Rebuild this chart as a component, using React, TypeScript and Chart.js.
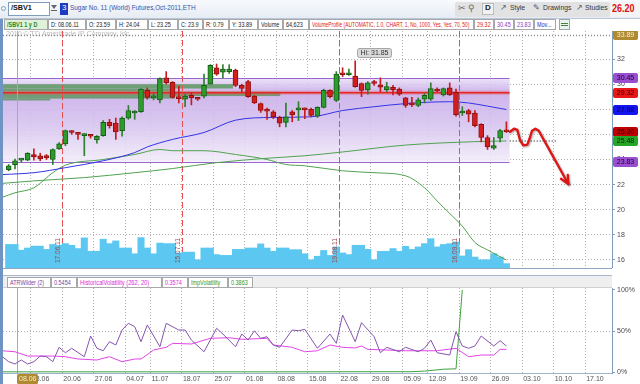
import { useEffect, useRef } from 'react';
import { Chart, registerables } from 'chart.js';

Chart.register(...registerables);

const FONT = "'Liberation Sans', Arial, Helvetica, sans-serif";

// ---------- Daily bars, index 0 = 07.06.11 ... index 79 = 28.09.11 ----------
const opens = [
  23.2, 23.59, 23.95, 23.95, 24.4, 24.3, 24.3, 24.0, 24.85, 25.25,
  26.25, 26.1, 25.9, 25.95, 25.55, 25.9, 26.95, 26.9, 26.3, 27.3,
  27.7, 27.8, 29.5, 28.9, 28.75, 30.5, 30.15, 28.95, 28.8, 29.1,
  28.9, 29.05, 30.0, 31.3, 30.95, 31.0, 31.1, 29.9, 30.2, 29.05,
  28.45, 28.0, 27.8, 27.35, 26.95, 27.8, 27.95, 28.0, 28.0, 27.45,
  28.15, 29.5, 28.7, 30.9, 30.75, 30.65, 30.05, 29.55, 30.2, 29.95,
  29.55, 29.75, 29.6, 28.9, 28.45, 28.3, 28.8, 28.8, 29.6, 29.15,
  29.7, 29.35, 27.7, 27.9, 27.7, 26.8, 25.75, 24.9, 25.7, 26.28,
];
const highs = [
  23.6, 24.04, 24.1, 24.55, 24.85, 24.5, 24.4, 24.85, 25.35, 26.35,
  26.3, 26.15, 26.05, 26.0, 25.9, 27.1, 27.2, 27.3, 27.4, 28.3,
  27.9, 29.65, 29.7, 29.25, 30.5, 31.0, 30.2, 29.85, 29.2, 29.3,
  28.95, 30.8, 31.55, 31.6, 31.55, 31.55, 31.2, 30.0, 30.3, 29.1,
  28.5, 28.1, 27.9, 27.45, 28.5, 27.9, 28.6, 28.1, 28.1, 28.2,
  29.6, 29.55, 31.0, 31.3, 31.2, 31.85, 30.1, 30.2, 30.3, 30.5,
  30.15, 29.9, 29.7, 28.95, 28.95, 28.9, 29.25, 30.1, 29.7, 29.7,
  30.1, 29.6, 28.2, 28.0, 27.9, 26.85, 25.9, 25.75, 26.4, 27.0,
];
const lows = [
  23.1, 23.25, 23.8, 23.9, 23.95, 23.9, 24.0, 23.6, 24.8, 25.1,
  26.0, 25.6, 24.3, 25.7, 25.3, 25.85, 26.5, 25.6, 25.85, 27.2,
  27.2, 27.75, 28.8, 28.75, 28.5, 30.0, 28.9, 28.5, 28.2, 28.35,
  28.7, 28.9, 30.0, 30.7, 30.5, 30.85, 29.8, 29.4, 28.95, 28.45,
  27.75, 27.2, 27.25, 26.6, 26.6, 27.0, 27.1, 27.25, 27.4, 27.35,
  28.1, 28.9, 28.6, 30.6, 30.7, 29.75, 29.0, 29.2, 29.9, 29.4,
  29.4, 29.15, 29.1, 28.15, 28.2, 28.2, 28.5, 28.7, 29.4, 29.05,
  29.1, 27.45, 27.5, 27.0, 26.6, 25.4, 24.8, 24.8, 25.4, 26.15,
];
const closes = [
  23.5, 23.9, 24.05, 24.5, 24.2, 24.05, 24.15, 24.8, 25.25, 26.3,
  26.15, 26.0, 26.0, 25.85, 25.85, 26.95, 26.7, 26.2, 27.3, 27.9,
  27.8, 29.6, 28.95, 29.0, 30.45, 30.1, 28.95, 28.85, 29.05, 28.9,
  28.8, 29.9, 31.5, 30.8, 31.2, 31.2, 29.9, 29.65, 29.0, 28.5,
  27.9, 27.85, 27.4, 26.9, 27.4, 27.55, 28.05, 27.95, 27.5, 28.15,
  29.5, 29.0, 30.8, 30.75, 30.85, 29.8, 29.5, 30.1, 30.05, 29.75,
  29.8, 29.55, 29.2, 28.3, 28.35, 28.75, 29.1, 29.65, 29.45, 29.65,
  29.15, 27.55, 27.85, 27.6, 26.7, 25.75, 25.0, 25.1, 26.3, 26.2,
];
// volume in thousands of contracts
const volumes = [
  86, 86, 65, 73, 80, 80, 68, 86, 83, 89,
  83, 71, 110, 61, 61, 105, 89, 99, 73, 73,
  52, 111, 73, 52, 91, 89, 89, 55, 58, 58,
  30, 73, 73, 49, 46, 46, 68, 68, 73, 73,
  88, 73, 61, 73, 73, 67, 67, 52, 30, 43,
  64, 46, 77, 55, 49, 83, 83, 68, 30, 61,
  61, 71, 61, 79, 68, 77, 89, 107, 77, 86,
  89, 95, 44, 67, 40, 30, 30, 52, 40, 16,
];

// moving averages (read at sample days)
const blueMaIdx = [-1, 4, 9, 15, 20, 22, 26, 31, 36, 42, 48, 53, 58, 63, 70, 73, 76, 79];
const blueMaVal = [22.8, 22.95, 23.35, 23.9, 24.55, 25.0, 25.6, 26.15, 27.13, 27.35, 27.4, 27.9, 28.2, 28.45, 28.6, 28.5, 28.25, 27.98];
const slowMaIdx = [-1, 4, 12, 20, 26, 33, 41, 47, 53, 63, 74, 79];
const slowMaVal = [22.1, 22.3, 22.56, 22.95, 23.28, 23.75, 24.1, 24.3, 24.6, 25.15, 25.42, 25.48];
const fastMaIdx = [-1, 1, 4, 7, 9, 15, 20, 24, 26, 31, 36, 41, 44, 47, 53, 58, 63, 66, 68, 70, 72, 74, 76, 79];
const fastMaVal = [21.0, 21.35, 21.75, 22.95, 23.55, 24.0, 24.4, 24.8, 24.7, 24.7, 24.4, 24.0, 23.6, 23.5, 23.1, 22.95, 22.7, 21.75, 20.7, 19.7, 18.7, 17.4, 16.8, 16.0];

// volume profile
const valueAreaHigh = 30.45;
const pocPrice = 29.32;
const valueAreaLow = 23.83;
const yearHigh = 33.89;
const profileLo = [29.65, 29.4, 29.05, 28.85, 28.7];
const profileHi = [30.0, 29.65, 29.4, 29.05, 28.85];
const profileEnd = [35.6, 26.4, 43.1, 26.4, 6.6];

// lower study panel (% of panel)
const atrIdx = [-1, 0, 1, 2, 3, 4, 5, 6, 7, 8, 9, 10, 12, 13, 14, 15, 16, 17, 18, 19, 20, 21, 22, 24, 25, 27, 28, 29, 31, 33, 34, 36, 37, 38, 39, 40, 41, 42, 43, 45, 46, 47, 49, 51, 52, 53, 55, 56, 58, 59, 60, 62, 63, 65, 66, 67, 68, 70, 71, 72, 73, 74, 75, 77, 78, 79];
const atrVal = [19, 12.9, 10.1, 15, 10.1, 12.9, 19.8, 19, 12.9, 30.4, 23.8, 29.2, 19, 44.1, 29.2, 26.2, 37.2, 33.2, 51.4, 59.5, 55.4, 37.2, 57.5, 31.1, 59.5, 51.4, 51.4, 39.2, 25, 53.5, 46.5, 31.1, 46.5, 39.2, 50.5, 41.3, 43.3, 33.2, 30.4, 51.4, 50.5, 52.2, 29.2, 46.5, 35.2, 69.6, 37.2, 60.3, 43.3, 23.8, 30.4, 25, 30.4, 25, 29.2, 39.2, 23.8, 21, 49.3, 32, 29.2, 32, 44.1, 32, 38.4, 32];
const hvIdx = [-1, 1, 3, 7, 9, 11, 14, 16, 18, 20, 21, 23, 25, 26, 29, 32, 35, 37, 41, 42, 45, 47, 49, 51, 53, 55, 56, 57, 60, 63, 65, 68, 71, 73, 75, 77, 78, 79];
const hvVal = [26.2, 25, 19.8, 19.8, 19, 16.2, 15, 19, 12.9, 16.2, 16.2, 27.1, 30.4, 35.2, 34.4, 41.3, 42, 40.1, 41.3, 33.2, 30.4, 25, 26.2, 33.2, 30.4, 29.6, 32, 27.9, 27.1, 26.2, 26.2, 26.2, 29.2, 19, 21, 21, 27.9, 27.9];
const ivIdx = [-1, 40, 64, 66, 69, 71, 72];
const ivVal = [0.6, 0.6, 0.8, 1.5, 3.8, 4.3, 100];

// axes
const xMin = -0.905;
const xMax = 95.76;
const weekTickIdx = [3.5, 8.5, 13.5, 18.5, 22.5, 27.5, 32.5, 37.5, 42.5, 47.5, 52.5, 57.5, 62.5, 66.5, 71.5, 76.5, 81.5, 86.5, 91.5];
const weekLabels = ['13.06', '20.06', '27.06', '04.07', '11.07', '18.07', '25.07', '01.08', '08.08', '15.08', '22.08', '29.08', '05.09', '12.09', '19.09', '26.09', '03.10', '10.10', '17.10'];
const priceTicks = [16, 18, 20, 22, 24, 26, 28, 30, 32];
const pctTicks = [0, 50, 100];

// markers
const expiryIdx = [8.5, 27.5, 52.5, 71.5];
const expiryLabels = ['17.06.11', '15.07.11', '19.08.11', '16.09.11'];
const cursorIdx = 1.3;
const cursorLabel = '08.06';
const tagValues = [33.89, 30.45, 29.32, 27.98, 26.2, 25.48, 23.83];
const tagColors = ['#B08A30', '#9A4FD0', '#E81818', '#1414F0', '#C00000', '#26A626', '#9A4FD0'];
const tagText = ['#F6EDD6', '#1A0030', '#300000', '#000060', '#200000', '#002000', '#1A0030'];
const drawIdx = [79.57, 80.21, 80.73, 81.16, 81.68, 82.32, 82.75, 83.06, 83.59, 84.13, 88.83];
const drawPrice = [26.21, 26.45, 26.35, 25.55, 25.13, 25.18, 25.77, 26.29, 26.45, 26.29, 22.05];
const projStartIdx = 79.5;
const projEndIdx = 87;
const projPrice = 25.48;

const lastIdx = closes.length - 1;
const isUp = (i: number) => closes[i] >= opens[i];

const mainOverlay = {
  id: 'mainOverlay',
  beforeDatasetsDraw(chart: any) {
    const { ctx, chartArea: a, scales } = chart;
    const x = scales.x;
    const y = scales.y;
    ctx.save();
    ctx.beginPath();
    ctx.rect(a.left, a.top, a.right - a.left, a.bottom - a.top);
    ctx.clip();
    // value area band
    const vx1 = x.getPixelForValue(lastIdx + 0.5);
    const yTop = y.getPixelForValue(valueAreaHigh);
    const yBot = y.getPixelForValue(valueAreaLow);
    const g = ctx.createLinearGradient(0, yTop, 0, yBot);
    g.addColorStop(0, '#E8DEF6');
    g.addColorStop(0.08, '#D8C4F0');
    g.addColorStop(0.16, '#C6A8E8');
    g.addColorStop(0.55, '#D4C0EE');
    g.addColorStop(1, '#F1EBF9');
    ctx.globalAlpha = 0.85;
    ctx.fillStyle = g;
    ctx.fillRect(a.left, yTop, vx1 - a.left, yBot - yTop);
    ctx.globalAlpha = 1;
    ctx.strokeStyle = '#9C64CC';
    ctx.lineWidth = 1;
    ctx.beginPath();
    ctx.moveTo(a.left, Math.round(yTop) + 0.5);
    ctx.lineTo(vx1, Math.round(yTop) + 0.5);
    ctx.moveTo(a.left, Math.round(yBot) + 0.5);
    ctx.lineTo(vx1, Math.round(yBot) + 0.5);
    ctx.stroke();
    // profile rows
    ctx.fillStyle = 'rgba(88,150,92,0.82)';
    for (let k = 0; k < profileLo.length; k++) {
      const y0 = y.getPixelForValue(profileHi[k]);
      const y1 = y.getPixelForValue(profileLo[k]);
      const xe = x.getPixelForValue(profileEnd[k]);
      ctx.fillRect(a.left, y0, xe - a.left, y1 - y0);
    }
    // POC
    const py = y.getPixelForValue(pocPrice);
    ctx.strokeStyle = 'rgba(240,90,90,0.4)';
    ctx.lineWidth = 4;
    ctx.beginPath();
    ctx.moveTo(a.left, py);
    ctx.lineTo(vx1, py);
    ctx.stroke();
    ctx.strokeStyle = '#E42828';
    ctx.lineWidth = 1.6;
    ctx.beginPath();
    ctx.moveTo(a.left, py);
    ctx.lineTo(vx1, py);
    ctx.stroke();
    // year high dotted
    const hy = Math.round(y.getPixelForValue(yearHigh)) + 0.5;
    ctx.strokeStyle = '#8C8C8C';
    ctx.setLineDash([1, 2]);
    ctx.beginPath();
    ctx.moveTo(a.left, hy);
    ctx.lineTo(a.right, hy);
    ctx.stroke();
    ctx.setLineDash([]);
    ctx.fillStyle = 'rgba(130,130,130,0.55)';
    ctx.font = `7px ${FONT}`;
    ctx.textBaseline = 'middle';
    ctx.textAlign = 'left';
    ctx.fillText('2010 \u00A9 TD Ameritrade IP Company, Inc.', a.left + 3, hy - 1);
    // expiration lines
    expiryIdx.forEach((v) => {
      const ex = Math.round(x.getPixelForValue(v)) + 0.5;
      ctx.strokeStyle = '#E65050';
      ctx.lineWidth = 1;
      ctx.setLineDash([6, 3]);
      ctx.beginPath();
      ctx.moveTo(ex, a.top);
      ctx.lineTo(ex, a.bottom);
      ctx.stroke();
      ctx.setLineDash([]);
    });
    // cursor
    const cx = Math.round(x.getPixelForValue(cursorIdx)) + 0.5;
    ctx.strokeStyle = '#D3A35A';
    ctx.lineWidth = 1;
    ctx.beginPath();
    ctx.moveTo(cx, a.top);
    ctx.lineTo(cx, a.bottom);
    ctx.stroke();
    ctx.restore();
  },
  afterDatasetsDraw(chart: any) {
    const { ctx, chartArea: a, scales } = chart;
    const x = scales.x;
    const y = scales.y;
    ctx.save();
    ctx.beginPath();
    ctx.rect(a.left, a.top, a.right - a.left, a.bottom - a.top);
    ctx.clip();
    // expiration labels (vertical)
    expiryIdx.forEach((v, k) => {
      const ex = Math.round(x.getPixelForValue(v));
      ctx.save();
      ctx.translate(ex - 1, a.bottom - 5);
      ctx.rotate(-Math.PI / 2);
      ctx.font = `6.5px ${FONT}`;
      ctx.fillStyle = '#9A4646';
      ctx.textAlign = 'left';
      ctx.textBaseline = 'bottom';
      ctx.fillText(expiryLabels[k], 0, 0);
      ctx.restore();
    });
    // projection dotted line
    const pj = y.getPixelForValue(projPrice);
    ctx.strokeStyle = '#8A8A8A';
    ctx.lineWidth = 1.5;
    ctx.setLineDash([1.5, 1.5]);
    ctx.beginPath();
    ctx.moveTo(x.getPixelForValue(projStartIdx), pj);
    ctx.lineTo(x.getPixelForValue(projEndIdx), pj);
    ctx.stroke();
    ctx.setLineDash([]);
    // hand drawing
    ctx.shadowColor = 'rgba(0,0,0,0.35)';
    ctx.shadowBlur = 2;
    ctx.shadowOffsetX = 1;
    ctx.shadowOffsetY = 1;
    ctx.strokeStyle = '#E01515';
    ctx.lineWidth = 2.4;
    ctx.lineJoin = 'round';
    ctx.lineCap = 'round';
    ctx.beginPath();
    drawIdx.forEach((v, k) => {
      const px = x.getPixelForValue(v);
      const pyy = y.getPixelForValue(drawPrice[k]);
      if (k === 0) ctx.moveTo(px, pyy);
      else ctx.lineTo(px, pyy);
    });
    ctx.stroke();
    const n = drawIdx.length;
    const tx = x.getPixelForValue(drawIdx[n - 1]);
    const ty = y.getPixelForValue(drawPrice[n - 1]);
    const fx = x.getPixelForValue(drawIdx[n - 2]);
    const fy = y.getPixelForValue(drawPrice[n - 2]);
    const ang = Math.atan2(ty - fy, tx - fx);
    ctx.beginPath();
    ctx.moveTo(tx - 9 * Math.cos(ang - 0.45), ty - 9 * Math.sin(ang - 0.45));
    ctx.lineTo(tx, ty);
    ctx.lineTo(tx - 9 * Math.cos(ang + 0.45), ty - 9 * Math.sin(ang + 0.45));
    ctx.stroke();
    ctx.shadowColor = 'transparent';
    // Hi label
    let hiI = 0;
    highs.forEach((h, i) => { if (h > highs[hiI]) hiI = i; });
    const hx = x.getPixelForValue(hiI) + 2;
    const hyy = y.getPixelForValue(highs[hiI]) - 4;
    const label = `Hi: ${highs[hiI].toFixed(2)}`;
    ctx.font = `7px ${FONT}`;
    const w = ctx.measureText(label).width + 6;
    ctx.fillStyle = '#DADADA';
    ctx.strokeStyle = '#A6A6A6';
    ctx.lineWidth = 1;
    ctx.beginPath();
    ctx.roundRect(Math.round(hx) + 0.5, Math.round(hyy - 9) + 0.5, Math.round(w), 9, 2);
    ctx.fill();
    ctx.stroke();
    ctx.fillStyle = '#333';
    ctx.textAlign = 'left';
    ctx.textBaseline = 'middle';
    ctx.fillText(label, Math.round(hx) + 3.5, Math.round(hyy - 9) + 5);
    ctx.restore();
  },
  afterDraw(chart: any) {
    const { ctx, chartArea: a, scales } = chart;
    const y = scales.y;
    ctx.save();
    ctx.font = `7px ${FONT}`;
    ctx.textAlign = 'center';
    ctx.textBaseline = 'middle';
    tagValues.forEach((v, k) => {
      const ty = Math.round(y.getPixelForValue(v));
      ctx.fillStyle = tagColors[k];
      ctx.beginPath();
      ctx.roundRect(a.right + 1, ty - 5, 25, 10, 2);
      ctx.fill();
      ctx.fillStyle = tagText[k];
      ctx.fillText(v.toFixed(2), a.right + 13.5, ty + 0.5);
    });
    ctx.restore();
  },
};

const lowerOverlay = {
  id: 'lowerOverlay',
  beforeDatasetsDraw(chart: any) {
    const { ctx, chartArea: a, scales } = chart;
    const cx = Math.round(scales.x.getPixelForValue(cursorIdx)) + 0.5;
    ctx.save();
    ctx.strokeStyle = '#D3A35A';
    ctx.lineWidth = 1;
    ctx.beginPath();
    ctx.moveTo(cx, a.top);
    ctx.lineTo(cx, a.bottom);
    ctx.stroke();
    ctx.restore();
  },
  afterDraw(chart: any) {
    const { ctx, chartArea: a, scales } = chart;
    const x = scales.x;
    ctx.save();
    ctx.font = `7px ${FONT}`;
    ctx.fillStyle = '#555';
    ctx.textAlign = 'left';
    ctx.textBaseline = 'middle';
    weekTickIdx.forEach((v, k) => {
      ctx.fillText(weekLabels[k], x.getPixelForValue(v) + 1, a.bottom + 6);
    });
    const cx = Math.round(x.getPixelForValue(cursorIdx));
    ctx.fillStyle = '#B08A2E';
    ctx.beginPath();
    ctx.roundRect(cx, a.bottom + 1, 21, 10, 1.5);
    ctx.fill();
    ctx.fillStyle = '#F6ECD2';
    ctx.fillText(cursorLabel, cx + 2, a.bottom + 6);
    ctx.restore();
  },
};

function TextBox(props: any) {
  const { l, t, w, h, text, color = '#222', bg = '#fff', bold = false, fs = 7, sx = 0.78, border = '#A8A8A8' } = props;
  return (
    <div style={{ position: 'absolute', left: l, top: t, width: w, height: h, boxSizing: 'border-box', border: `1px solid ${border}`, background: bg, overflow: 'hidden' }}>
      <span style={{ position: 'absolute', left: 2, top: 0, height: h - 2, lineHeight: `${h - 2}px`, fontSize: fs, fontWeight: bold ? 700 : 400, color, whiteSpace: 'nowrap', transform: `scaleX(${sx})`, transformOrigin: '0 50%' }}>{text}</span>
    </div>
  );
}

function Txt(props: any) {
  const { l, t, text, color = '#222', fs = 8, bold = false, sx = 0.85 } = props;
  return (
    <span style={{ position: 'absolute', left: l, top: t, fontSize: fs, lineHeight: `${fs + 2}px`, color, fontWeight: bold ? 700 : 400, whiteSpace: 'nowrap', transform: `scaleX(${sx})`, transformOrigin: '0 50%' }}>{text}</span>
  );
}

export default function App() {
  const mainRef = useRef<HTMLCanvasElement>(null);
  const lowRef = useRef<HTMLCanvasElement>(null);

  useEffect(() => {
    const idx = opens.map((_, i) => i);
    const gridDash = [1, 2];
    const xScale = (isLower: boolean) => ({
      type: 'linear',
      min: xMin,
      max: xMax,
      offset: false,
      afterBuildTicks: (s: any) => { s.ticks = weekTickIdx.map((v) => ({ value: v })); },
      ticks: { display: false },
      grid: { color: '#B2B2B2', drawTicks: false, offset: false },
      border: { display: true, color: isLower ? '#9FB3CB' : '#7F9DB9', dash: gridDash },
      afterFit: (s: any) => { s.height = isLower ? 11 : 0; s.paddingLeft = 0; s.paddingRight = 0; },
    });

    const main = new Chart(mainRef.current as HTMLCanvasElement, {
      type: 'bar',
      data: {
        datasets: [
          {
            type: 'bar', label: 'Body',
            data: idx.map((i) => ({ x: i, y: [opens[i], closes[i]] })),
            backgroundColor: idx.map((i) => (isUp(i) ? '#2C9C2C' : '#D41E1E')),
            borderColor: idx.map((i) => (isUp(i) ? '#165E16' : '#8C1010')),
            borderWidth: 1, borderSkipped: false, barThickness: 5, minBarLength: 2,
            grouped: false, order: 1, yAxisID: 'y',
          },
          {
            type: 'bar', label: 'Wick',
            data: idx.map((i) => ({ x: i, y: [lows[i], highs[i]] })),
            backgroundColor: idx.map((i) => (isUp(i) ? '#2F7F2F' : '#C81C1C')),
            barThickness: 1, grouped: false, order: 2, yAxisID: 'y',
          },
          {
            type: 'bar', label: 'Volume',
            data: idx.map((i) => ({ x: i, y: volumes[i] })),
            backgroundColor: '#5CC8F2', barThickness: 6.4,
            grouped: false, order: 10, yAxisID: 'yv',
          },
          {
            type: 'line', label: 'MA', data: blueMaIdx.map((v, k) => ({ x: v, y: blueMaVal[k] })),
            borderColor: '#3333E6', borderWidth: 1, pointRadius: 0, cubicInterpolationMode: 'monotone', order: 5, yAxisID: 'y',
          },
          {
            type: 'line', label: 'MA slow', data: slowMaIdx.map((v, k) => ({ x: v, y: slowMaVal[k] })),
            borderColor: '#4FA24F', borderWidth: 1, pointRadius: 0, cubicInterpolationMode: 'monotone', order: 5, yAxisID: 'y',
          },
          {
            type: 'line', label: 'MA fast', data: fastMaIdx.map((v, k) => ({ x: v, y: fastMaVal[k] })),
            borderColor: '#4FA24F', borderWidth: 1, pointRadius: 0, cubicInterpolationMode: 'monotone', order: 5, yAxisID: 'y',
          },
        ] as any,
      },
      options: {
        animation: false, responsive: false, devicePixelRatio: 1, events: [],
        layout: { padding: { left: 3, right: 0, top: 0, bottom: 0 } },
        plugins: { legend: { display: false }, tooltip: { enabled: false } },
        scales: {
          x: xScale(false),
          y: {
            position: 'right', min: 15.363, max: 34.23,
            afterBuildTicks: (s: any) => { s.ticks = priceTicks.map((v) => ({ value: v })); },
            ticks: { color: '#4A4A4A', font: { size: 7, family: FONT }, padding: 2, callback: (v: any) => String(v) },
            grid: { color: '#B2B2B2', tickLength: 3, tickColor: '#7F9DB9' },
            border: { color: '#7F9DB9', dash: gridDash },
            afterFit: (s: any) => { s.width = 28; s.paddingTop = 0; s.paddingBottom = 0; },
          },
          yv: { display: false, min: 0, max: 865 },
        },
      } as any,
      plugins: [mainOverlay],
    });

    const lower = new Chart(lowRef.current as HTMLCanvasElement, {
      type: 'line',
      data: {
        datasets: [
          { label: 'ATRWilder', data: atrIdx.map((v, k) => ({ x: v, y: atrVal[k] })), borderColor: '#8454AE', borderWidth: 1, pointRadius: 0, tension: 0 },
          { label: 'HistoricalVolatility', data: hvIdx.map((v, k) => ({ x: v, y: hvVal[k] })), borderColor: '#E044E6', borderWidth: 1, pointRadius: 0, tension: 0 },
          { label: 'ImpVolatility', data: ivIdx.map((v, k) => ({ x: v, y: ivVal[k] })), borderColor: '#3FA23F', borderWidth: 1, pointRadius: 0, tension: 0 },
        ],
      },
      options: {
        animation: false, responsive: false, devicePixelRatio: 1, events: [],
        layout: { padding: { left: 3, right: 0, top: 12, bottom: 0 } },
        plugins: { legend: { display: false }, tooltip: { enabled: false } },
        scales: {
          x: xScale(true),
          y: {
            position: 'right', min: -0.8, max: 102.4,
            afterBuildTicks: (s: any) => { s.ticks = pctTicks.map((v) => ({ value: v })); },
            ticks: { color: '#4A4A4A', font: { size: 7, family: FONT }, padding: 2, callback: (v: any) => `${v}%` },
            grid: { color: (c: any) => (c.tick && c.tick.value === 50 ? '#B2B2B2' : 'rgba(0,0,0,0)'), tickLength: 3, tickColor: '#7F9DB9' },
            border: { color: '#7F9DB9', dash: gridDash },
            afterFit: (s: any) => { s.width = 28; s.paddingTop = 0; s.paddingBottom = 0; },
          },
        },
      } as any,
      plugins: [lowerOverlay],
    });

    return () => {
      main.destroy();
      lower.destroy();
    };
  }, []);

  return (
    <div style={{ position: 'fixed', left: 0, top: 0, width: 640, height: 384, background: '#fff', overflow: 'hidden', fontFamily: FONT }}>
      {/* toolbar */}
      <div style={{ position: 'absolute', left: 0, top: 0, width: 640, height: 19, background: 'linear-gradient(#F8FAFD, #E6ECF4)', borderBottom: '1px solid #B8C6D8', boxSizing: 'border-box' }} />
      <div style={{ position: 'absolute', left: 1, top: 6, width: 5, height: 5, borderRadius: 3, border: '1px solid #8AA0B8', boxSizing: 'border-box' }} />
      <div style={{ position: 'absolute', left: 8, top: 2, width: 42, height: 14, background: '#fff', border: '1px solid #7F9DB9', boxSizing: 'border-box' }} />
      <Txt l={11} t={3} text="/SBV1" fs={8} bold color="#111" sx={0.9} />
      <div style={{ position: 'absolute', left: 51, top: 5, width: 0, height: 0, borderLeft: '3px solid transparent', borderRight: '3px solid transparent', borderTop: '4px solid #666' }} />
      <div style={{ position: 'absolute', left: 51, top: 10, width: 6, height: 1, background: '#666' }} />
      <div style={{ position: 'absolute', left: 60, top: 3, width: 8, height: 12, background: '#1E3CC0' }} />
      <Txt l={62} t={3} text="3" fs={8} color="#fff" sx={1} />
      <Txt l={70} t={3} text="Sugar No. 11 (World) Futures,Oct-2011,ETH" fs={8} color="#3553A8" sx={0.8} />
      <div style={{ position: 'absolute', left: 455, top: 2, width: 155, height: 15, background: '#E2E2E2', borderRadius: 2 }} />
      <Txt l={458} t={3} text={'\u2702'} fs={9} color="#666" sx={1} />
      <Txt l={468} t={3} text={'\u26B2'} fs={9} color="#666" sx={1} />
      <div style={{ position: 'absolute', left: 482, top: 3, width: 12, height: 12, background: '#F2F2F2', border: '1px solid #BBB', boxSizing: 'border-box' }} />
      <Txt l={485} t={3} text="D" fs={8} bold color="#222" sx={1} />
      <Txt l={500} t={3} text={'\u2197'} fs={8} color="#557" sx={1} />
      <Txt l={510} t={3} text="Style" fs={8} color="#333" sx={0.85} />
      <Txt l={533} t={3} text={'\u270E'} fs={8} color="#557" sx={1} />
      <Txt l={543} t={3} text="Drawings" fs={8} color="#333" sx={0.85} />
      <Txt l={576} t={3} text={'\u2197'} fs={8} color="#557" sx={1} />
      <Txt l={585} t={3} text="Studies" fs={8} color="#333" sx={0.85} />
      <div style={{ position: 'absolute', left: 610, top: 2, width: 30, height: 15, background: '#F4F4F4' }} />
      <Txt l={612} t={3} text="26.20" fs={10} bold color="#E01010" sx={0.9} />

      {/* info row */}
      <TextBox l={4} t={19} w={44} h={11} text="/SBV1 1 y D" color="#1E8A1E" bg="#E2F2DA" bold />
      <TextBox l={48} t={19} w={38} h={11} text="D: 08.06.11" />
      <TextBox l={86} t={19} w={30} h={11} text="O: 23.59" />
      <TextBox l={116} t={19} w={32} h={11} text="H: 24.04" />
      <TextBox l={148} t={19} w={30} h={11} text="L: 23.25" />
      <TextBox l={178} t={19} w={25} h={11} text="C: 23.9" />
      <TextBox l={203} t={19} w={26} h={11} text="R: 0.79" />
      <TextBox l={229} t={19} w={29} h={11} text="Y: 33.89" />
      <TextBox l={258} t={19} w={25} h={11} text="Volume" />
      <TextBox l={283} t={19} w={26} h={11} text="64,623" />
      <TextBox l={309} t={19} w={165} h={11} text="VolumeProfile (AUTOMATIC, 1.0, CHART, 1, No, 1000, Yes, Yes, 70, 50)" color="#E02020" sx={0.7} />
      <TextBox l={474} t={19} w={20} h={11} text="29.32" color="#E02020" />
      <TextBox l={494} t={19} w={20} h={11} text="30.45" color="#8A3CC0" />
      <TextBox l={514} t={19} w={20} h={11} text="23.83" color="#8A3CC0" />
      <TextBox l={534} t={19} w={22} h={11} text="Mov..." color="#2233CC" />
      <div style={{ position: 'absolute', left: 559, top: 19, width: 11, height: 11, border: '1px solid #9AA', background: '#EEF2EE', boxSizing: 'border-box' }} />
      <div style={{ position: 'absolute', left: 561, top: 23, width: 7, height: 3, borderTop: '1px solid #3A8A3A', borderBottom: '1px solid #3A8A3A', boxSizing: 'border-box' }} />

      {/* main chart */}
      <canvas ref={mainRef} width={640} height={237} style={{ position: 'absolute', left: 0, top: 31, width: 640, height: 237 }} />

      {/* separator */}
      <div style={{ position: 'absolute', left: 3, top: 268, width: 609, height: 1, background: '#8FA7C4' }} />
      <div style={{ position: 'absolute', left: 3, top: 275, width: 609, height: 1, background: '#A8B8CC' }} />

      {/* lower panel */}
      <canvas ref={lowRef} width={640} height={108} style={{ position: 'absolute', left: 0, top: 276, width: 640, height: 108 }} />
      <div style={{ position: 'absolute', left: 3, top: 276, width: 609, height: 12, background: '#EFEFEF', borderBottom: '1px solid #D0D0D0', boxSizing: 'border-box' }} />
      <TextBox l={7} t={277} w={44} h={11} text="ATRWilder (2)" color="#7A4A9E" />
      <TextBox l={51} t={277} w={26} h={11} text="0.5454" color="#7A4A9E" />
      <TextBox l={77} t={277} w={85} h={11} text="HistoricalVolatility (262, 20)" color="#D62ED6" sx={0.82} />
      <TextBox l={162} t={277} w={26} h={11} text="0.3574" color="#D62ED6" />
      <TextBox l={188} t={277} w={40} h={11} text="ImpVolatility" color="#2A962A" />
      <TextBox l={228} t={277} w={25} h={11} text="0.3863" color="#2A962A" />

      {/* left frame */}
      <div style={{ position: 'absolute', left: 0, top: 19, width: 3, height: 365, background: '#6F94C4' }} />
    </div>
  );
}
